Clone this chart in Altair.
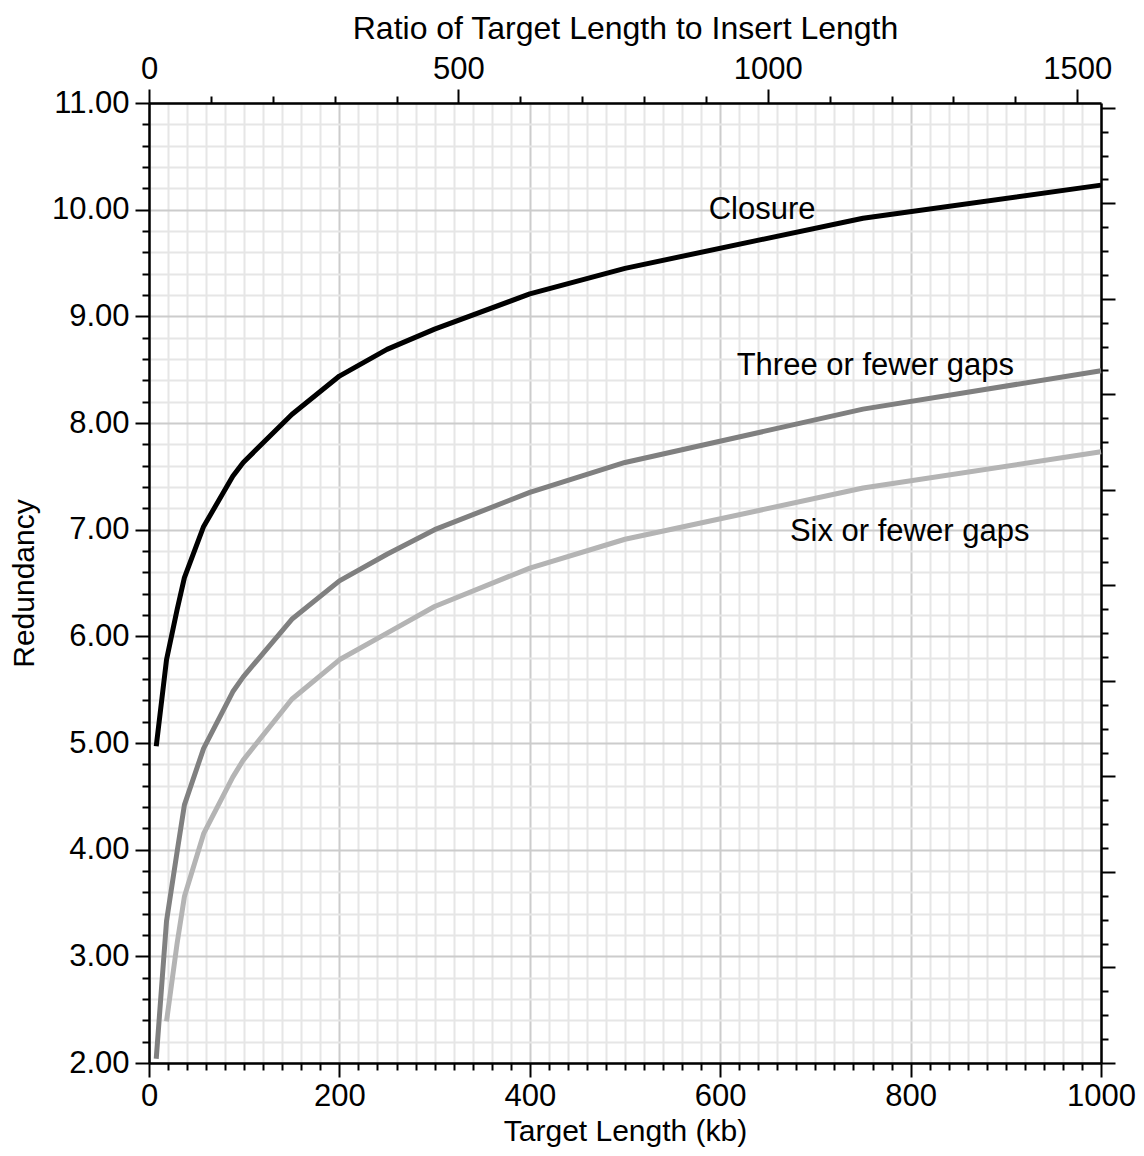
import altair as alt
import pandas as pd

# ---- data ----
kb_black = [7.6, 18.4, 29.5, 37.2, 57.4, 88, 99, 150, 200, 250, 300, 400, 500, 750, 1000]
closure = [4.97, 5.78, 6.25, 6.55, 7.03, 7.50, 7.63, 8.08, 8.44, 8.69, 8.88, 9.21, 9.45, 9.92, 10.23]

kb_three = [7.6, 18.4, 29.5, 37.2, 57.4, 88, 99, 150, 200, 250, 300, 400, 500, 750, 1000]
three_gaps = [2.04, 3.33, 3.98, 4.42, 4.95, 5.48, 5.62, 6.16, 6.52, 6.77, 7.00, 7.35, 7.63, 8.13, 8.49]

kb_six = [18.4, 29.5, 37.2, 57.4, 88, 99, 150, 200, 250, 300, 400, 500, 750, 1000]
six_gaps = [2.39, 3.12, 3.56, 4.15, 4.68, 4.84, 5.41, 5.78, 6.03, 6.28, 6.64, 6.91, 7.39, 7.73]

series_names = ["Closure", "Three or fewer gaps", "Six or fewer gaps"]
series_colors = ["#000000", "#808080", "#b4b4b4"]

label_text = ["Closure", "Three or fewer gaps", "Six or fewer gaps"]
label_kb = [644, 763, 799]
label_val = [10.0, 8.53, 6.98]

insert_kb = 0.65  # ratio axis: target length / insert length

x_tick_vals = list(range(0, 1001, 20))
y_tick_vals = [round(2 + 0.2 * i, 1) for i in range(46)]
top_tick_vals = list(range(0, 1501, 100))
right_tick_vals = [i * 0.25 for i in range(41)]

FONT = "Liberation Sans"

rows = []
for name, xs, ys in [(series_names[0], kb_black, closure),
                     (series_names[1], kb_three, three_gaps),
                     (series_names[2], kb_six, six_gaps)]:
    for i, (x, y) in enumerate(zip(xs, ys)):
        rows.append({"series": name, "kb": x, "val": y, "order": i})
df = pd.DataFrame(rows)
labels_df = pd.DataFrame({"text": label_text, "kb": label_kb, "val": label_val})

xscale = alt.Scale(domain=[0, 1000], nice=False, zero=False)
yscale = alt.Scale(domain=[2, 11], nice=False, zero=False)

axis_common = dict(
    domainColor="black", domainWidth=2.5, tickColor="black", tickWidth=2,
    labelFont=FONT, labelFontSize=31, labelColor="black",
    titleFont=FONT, titleFontWeight="normal", titleColor="black",
    labelOverlap=False, labelFlush=False, tickCount=500,
)

x_axis = alt.Axis(
    values=x_tick_vals, format="d",
    labelExpr="datum.value % 200 === 0 ? datum.label : ''",
    tickSize={"condition": {"test": "datum.value % 200 === 0", "value": 14}, "value": 7},
    grid=True, gridWidth=2,
    gridColor={"condition": {"test": "datum.value % 200 === 0", "value": "#cccccc"}, "value": "#e6e6e6"},
    title="Target Length (kb)", titleFontSize=30, titlePadding=5, labelPadding=4,
    **axis_common,
)
int_test = "abs(datum.value - round(datum.value)) < 0.001"
y_axis = alt.Axis(
    values=y_tick_vals, format=".2f",
    labelExpr=f"{int_test} ? datum.label : ''",
    tickSize={"condition": {"test": int_test, "value": 14}, "value": 7},
    grid=True, gridWidth=2,
    gridColor={"condition": {"test": int_test, "value": "#cccccc"}, "value": "#e6e6e6"},
    title="Redundancy", titleFontSize=30, titlePadding=12, labelPadding=6,
    **axis_common,
)

lines = alt.Chart(df).mark_line(strokeWidth=5, strokeCap="butt", strokeJoin="round").encode(
    x=alt.X("kb:Q", scale=xscale, axis=x_axis),
    y=alt.Y("val:Q", scale=yscale, axis=y_axis),
    color=alt.Color("series:N", scale=alt.Scale(domain=series_names, range=series_colors), legend=None),
    order="order:Q",
)
texts = alt.Chart(labels_df).mark_text(font=FONT, fontSize=31, color="black", align="center", baseline="middle").encode(
    x=alt.X("kb:Q", scale=xscale),
    y=alt.Y("val:Q", scale=yscale),
    text="text:N",
)
main = alt.layer(lines, texts)

top_df = pd.DataFrame({"ratio": top_tick_vals})
top = alt.Chart(top_df).mark_point(opacity=0).encode(
    x=alt.X("ratio:Q", scale=alt.Scale(domain=[0, 1000 / insert_kb], nice=False, zero=False),
            axis=alt.Axis(orient="top", values=top_tick_vals, format="d",
                          labelExpr="datum.value % 500 === 0 ? datum.label : ''",
                          tickSize={"condition": {"test": "datum.value % 500 === 0", "value": 14}, "value": 7},
                          grid=False, title="Ratio of Target Length to Insert Length",
                          titleFontSize=32, titlePadding=8, labelPadding=4, **axis_common)),
    y=alt.value(0),
)

right_df = pd.DataFrame({"r": right_tick_vals})
right = alt.Chart(right_df).mark_point(opacity=0).encode(
    y=alt.Y("r:Q", scale=alt.Scale(domain=[0, 10.05], nice=False, zero=False),
            axis=alt.Axis(orient="right", values=right_tick_vals, labels=False,
                          tickSize={"condition": {"test": int_test, "value": 14}, "value": 7},
                          grid=False, title=None, **axis_common)),
    x=alt.value(0),
)

chart = alt.layer(main, top, right).resolve_scale(x="independent", y="independent").properties(
    width=952, height=960,
    autosize=alt.AutoSizeParams(type="none"),
    padding={"left": 141, "top": 95, "right": 35, "bottom": 85},
).configure_view(stroke=None).configure(background="white")

chart.save("out.html", embed_options={"renderer": "svg", "actions": False})
